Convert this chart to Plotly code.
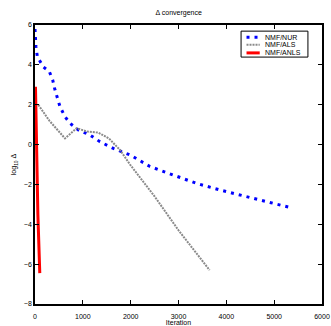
import plotly.graph_objects as go

nur_x = [0, 20, 50, 90, 174, 300, 370, 418, 523, 627, 732, 906, 1150, 1359, 1637, 1986, 2404, 2892, 3380, 3868, 4390, 4900, 5370]
nur_y = [5.8, 4.9, 4.4, 4.24, 3.9, 3.66, 3.24, 2.74, 1.9, 1.4, 1.07, 0.73, 0.48, 0.14, -0.19, -0.52, -1.1, -1.53, -1.95, -2.28, -2.6, -2.9, -3.18]

als_x = [70, 300, 627, 871, 1100, 1325, 1550, 1777, 1986, 2500, 3000, 3650]
als_y = [1.99, 1.2, 0.31, 0.82, 0.65, 0.6, 0.3, -0.27, -1.0, -2.6, -4.3, -6.3]

anls_x = [10, 30, 60, 100]
anls_y = [2.9, 0.0, -3.5, -6.45]

series_names = ["NMF/NUR", "NMF/ALS", "NMF/ANLS"]
series_colors = ["#0000ff", "#8a8a8a", "#ff0000"]
series_widths = [3, 2, 3]
series_dash = ["3px,5px", "2px,1px", "solid"]

FONT = "Liberation Sans"

fig = go.Figure()
for xs, ys, nm, c, w, d in zip([nur_x, als_x, anls_x], [nur_y, als_y, anls_y],
                               series_names, series_colors, series_widths, series_dash):
    fig.add_trace(go.Scatter(x=xs, y=ys, mode="lines", name=nm, showlegend=False,
                             line=dict(color=c, width=w, dash=d)))

# manual compact legend (MATLAB style box)
lx0, lx1, ly0, ly1 = 0.718, 0.951, 0.885, 0.978
fig.add_shape(type="rect", xref="paper", yref="paper", x0=lx0, x1=lx1, y0=ly0, y1=ly1,
              line=dict(color="black", width=1), fillcolor="white", layer="above")
row_y = [0.956, 0.929, 0.9]
for ry, nm, c, w, d in zip(row_y, series_names, series_colors, series_widths, series_dash):
    fig.add_shape(type="line", xref="paper", yref="paper", x0=0.737, x1=0.783, y0=ry, y1=ry,
                  line=dict(color=c, width=w, dash=d), layer="above")
    fig.add_annotation(text=nm, xref="paper", yref="paper", x=0.795, y=ry, xanchor="left",
                       yanchor="middle", showarrow=False,
                       font=dict(size=7, family=FONT, color="black"))

axis_common = dict(showline=True, linecolor="black", linewidth=1.5, mirror="ticks",
                   ticks="inside", ticklen=4, tickcolor="black", showgrid=False,
                   zeroline=False, automargin=False,
                   tickfont=dict(size=7, family=FONT, color="black"))
fig.update_layout(
    width=331, height=326,
    margin=dict(l=35, r=9, t=25, b=22),
    plot_bgcolor="white", paper_bgcolor="white",
    title=dict(text="Δ convergence", x=0.54, xanchor="center", y=0.962, yanchor="middle",
               font=dict(size=7, family=FONT, color="black")),
    xaxis=dict(range=[0, 6000], tickvals=[0, 1000, 2000, 3000, 4000, 5000, 6000],
               ticklabelstandoff=5,
               title=dict(text="Iteration", standoff=6, font=dict(size=7, family=FONT, color="black")),
               **axis_common),
    yaxis=dict(range=[-8, 6], tickvals=[-8, -6, -4, -2, 0, 2, 4, 6],
               title=dict(text="log<sub>10</sub> Δ", standoff=6, font=dict(size=7, family=FONT, color="black")),
               **axis_common),
    showlegend=False,
)
fig.write_html("out.html")
